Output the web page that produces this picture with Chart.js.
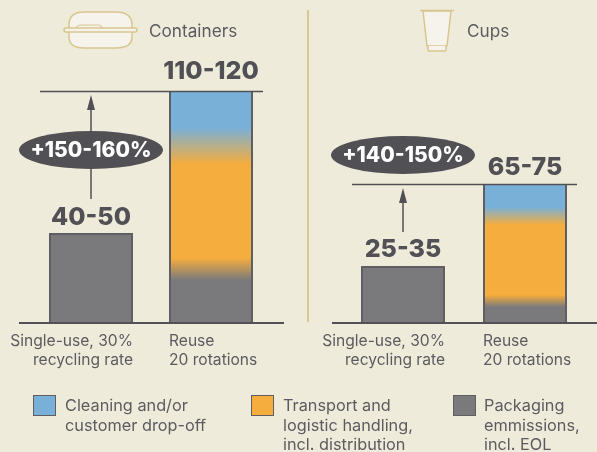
<!DOCTYPE html>
<html>
<head>
<meta charset="utf-8">
<script src="https://cdn.jsdelivr.net/npm/chart.js@4/dist/chart.umd.min.js"></script>
<style>
    html, body { margin: 0; padding: 0; background: #efebda; }
    #page { position: relative; width: 597px; height: 452px; overflow: hidden; background: #efebda;
        font-family: Inter, sans-serif; color: #5b5b60; }
    canvas { position: absolute; top: 0; }
    #divider { position: absolute; left: 307px; top: 10px; width: 2px; height: 312px; background: #d9c794; }
    .title { position: absolute; top: 21px; font-size: 17.2px; line-height: 20px; }
    .icon { position: absolute; }
    .swatch { position: absolute; top: 395px; width: 21px; height: 19px; border: 1.5px solid #5f5f63; }
    .legend { position: absolute; top: 396px; font-size: 16.3px; line-height: 19.5px; white-space: pre; }
</style>
</head>
<body>
<div id="page">
    <canvas id="containers" style="left:0" width="300" height="452"></canvas>
    <canvas id="cups" style="left:300px" width="297" height="452"></canvas>
    <div id="divider"></div>

    <svg class="icon" style="left:62px;top:10px" width="78" height="42" viewBox="0 0 78 42">
        <path d="M7 19 V15 Q7 2 22 2 H54 Q70 2 70 15 V19 V27 Q70 38 54 38 H22 Q7 38 7 27 Z" fill="#f6f3ec" stroke="#d9c68f" stroke-width="1.5"/>
        <path d="M14 19 Q14 15 20 15 H36 Q40 15 40 19" fill="#f6f3ec" stroke="#d9c68f" stroke-width="1.2"/>
        <rect x="2" y="18" width="73" height="4" rx="2" fill="#f6f3ec" stroke="#d9c68f" stroke-width="1.5"/>
    </svg>
    <svg class="icon" style="left:418px;top:8px" width="38" height="46" viewBox="0 0 38 46">
        <path d="M5 3 L9 38 H29 L33 3 Z" fill="#f6f3ec" stroke="#d9c68f" stroke-width="1.5"/>
        <path d="M10 38 V42 Q10 43 11 43 H27 Q28 43 28 42 V38" fill="#f6f3ec" stroke="#d9c68f" stroke-width="1.5"/>
        <line x1="2" y1="2.5" x2="36" y2="2.5" stroke="#d9c68f" stroke-width="1.5"/>
    </svg>

    <div class="title" style="left:149px">Containers</div>
    <div class="title" style="left:467px">Cups</div>
    <div id="legend"></div>
</div>
<script>
const categories = ['Single-use, 30%\nrecycling rate', 'Reuse\n20 rotations'];
const seriesNames = ['Packaging\nemmissions,\nincl. EOL', 'Transport and\nlogistic handling,\nincl. distribution', 'Cleaning and/or\ncustomer drop-off'];

const containersPackaging = [45, 27];
const containersTransport = [0, 61.5];
const containersCleaning = [0, 27.5];
const containersLabels = ['40-50', '110-120'];
const containersChange = '+150-160%';

const cupsPackaging = [28.5, 11];
const cupsTransport = [0, 42.5];
const cupsCleaning = [0, 16];
const cupsLabels = ['25-35', '65-75'];
const cupsChange = '+140-150%';

const GREY = '#7a7a7c';
const ORANGE = '#f5ad3d';
const BLUE = '#78b0d8';
const EDGE = '#5f5f63';
const DARK = '#505055';
const FONT = 'Inter, sans-serif';

// the reuse bar fades between segments, so one gradient runs over the whole stack
function stackGradient(chart, index, blendLow, blendHigh) {
    const y = chart.scales.y;
    const sets = chart.data.datasets;
    const a = sets[0].data[index];
    const b = a + sets[1].data[index];
    const c = b + sets[2].data[index];
    const bottom = y.getPixelForValue(0);
    const top = y.getPixelForValue(c);
    const g = chart.ctx.createLinearGradient(0, bottom, 0, top);
    const stop = v => Math.min(1, Math.max(0, v / c));
    g.addColorStop(0, GREY);
    g.addColorStop(stop(a - blendLow), GREY);
    g.addColorStop(stop(a + blendLow), ORANGE);
    g.addColorStop(stop(b - blendHigh), ORANGE);
    g.addColorStop(stop(b + blendHigh), BLUE);
    g.addColorStop(1, BLUE);
    return g;
}

function barFill(blendLow, blendHigh) {
    return ctx => {
        if (!ctx.chart.chartArea) return GREY;
        return ctx.dataIndex === 0 ? GREY : stackGradient(ctx.chart, ctx.dataIndex, blendLow, blendHigh);
    };
}

const annotations = {
    id: 'annotations',
    afterDatasetsDraw(chart, args, opts) {
        const ctx = chart.ctx;
        const y = chart.scales.y;
        const meta = chart.getDatasetMeta(0).data;
        const sets = chart.data.datasets;
        const total = i => sets[0].data[i] + sets[1].data[i] + sets[2].data[i];
        const topY = y.getPixelForValue(total(1));
        const base = y.getPixelForValue(0);
        const x0 = meta[0].x;
        const x1 = meta[1].x;
        const half = meta[0].width / 2;

        ctx.save();
        // baseline and level line
        ctx.strokeStyle = DARK;
        ctx.lineWidth = 2;
        ctx.beginPath();
        ctx.moveTo(x0 - half - opts.axisLeft, base);
        ctx.lineTo(x1 + half + opts.axisRight, base);
        ctx.stroke();
        ctx.lineWidth = 1.5;
        ctx.beginPath();
        ctx.moveTo(x0 - half - 9, topY + 0.5);
        ctx.lineTo(x1 + half + 10, topY + 0.5);
        ctx.stroke();

        // arrow from the small bar up to the level line
        ctx.beginPath();
        ctx.moveTo(x0, y.getPixelForValue(total(0)) - opts.arrowGap);
        ctx.lineTo(x0, topY + 16);
        ctx.stroke();
        ctx.fillStyle = DARK;
        ctx.beginPath();
        ctx.moveTo(x0, topY + 4);
        ctx.lineTo(x0 - 4, topY + 19);
        ctx.lineTo(x0 + 4, topY + 19);
        ctx.closePath();
        ctx.fill();

        // change oval
        ctx.beginPath();
        ctx.ellipse(x0, opts.ovalY, 72, 19, 0, 0, Math.PI * 2);
        ctx.fill();
        ctx.fillStyle = '#ffffff';
        ctx.font = '800 21px ' + FONT;
        ctx.textAlign = 'center';
        ctx.textBaseline = 'middle';
        ctx.fillText(opts.change, x0, opts.ovalY + 1);

        // value labels over the bars
        ctx.fillStyle = DARK;
        ctx.font = '800 25px ' + FONT;
        ctx.textBaseline = 'alphabetic';
        opts.labels.forEach((t, i) => {
            ctx.fillText(t, meta[i].x, y.getPixelForValue(total(i)) - opts.labelGap[i]);
        });

        // category names, first right aligned to its bar, second left aligned
        ctx.fillStyle = '#5b5b60';
        ctx.font = '15.6px ' + FONT;
        chart.data.labels.forEach((t, i) => {
            ctx.textAlign = i === 0 ? 'right' : 'left';
            const tx = i === 0 ? x0 + half : x1 - half;
            t.split('\n').forEach((line, n) => ctx.fillText(line, tx, base + 23 + n * 19));
        });
        ctx.restore();
    }
};

function createPanel(id, packaging, transport, cleaning, labels, change, padding, extra, blends) {
    return new Chart(document.getElementById(id), {
        type: 'bar',
        data: {
            labels: categories,
            datasets: [
                { label: seriesNames[0], data: packaging },
                { label: seriesNames[1], data: transport },
                { label: seriesNames[2], data: cleaning }
            ].map((d, n) => ({
                ...d,
                backgroundColor: barFill(blends[0], blends[1]),
                borderColor: EDGE,
                borderWidth: ctx => ctx.dataIndex === 0
                    ? { left: 2, right: 2, top: n === 0 ? 2 : 0, bottom: 0 }
                    : { left: 2, right: 2, top: 0, bottom: 0 },
                barPercentage: extra.barPercentage,
                categoryPercentage: 1
            }))
        },
        options: {
            responsive: false,
            animation: false,
            layout: { padding },
            scales: {
                x: { stacked: true, display: false },
                y: { stacked: true, display: false, min: 0, max: 160 }
            },
            plugins: {
                legend: { display: false },
                tooltip: { enabled: false },
                annotations: { labels, change, ...extra }
            }
        },
        plugins: [annotations]
    });
}

createPanel('containers', containersPackaging, containersTransport, containersCleaning,
    containersLabels, containersChange,
    { left: 31, right: 29, top: 3, bottom: 129 },
    { barPercentage: 0.7, ovalY: 150, axisLeft: 30, axisRight: 31, arrowGap: 34, labelGap: [8, 12] }, [5.5, 9.25]);

createPanel('cups', cupsPackaging, cupsTransport, cupsCleaning,
    cupsLabels, cupsChange,
    { left: 42, right: 11, top: 3, bottom: 129 },
    { barPercentage: 84 / 122, ovalY: 155, axisLeft: 29, axisRight: 30, arrowGap: 34, labelGap: [9, 9] }, [3, 4.5]);

// legend under the two panels
const legendColors = [GREY, ORANGE, BLUE];
const legendSwatchX = [453, 251, 33];
const legendTextX = [484, 283, 65];
const legend = document.getElementById('legend');
seriesNames.forEach((name, i) => {
    const s = document.createElement('div');
    s.className = 'swatch';
    s.style.left = legendSwatchX[i] + 'px';
    s.style.background = legendColors[i];
    legend.appendChild(s);
    const t = document.createElement('div');
    t.className = 'legend';
    t.style.left = legendTextX[i] + 'px';
    t.textContent = name;
    legend.appendChild(t);
});
</script>
</body>
</html>
